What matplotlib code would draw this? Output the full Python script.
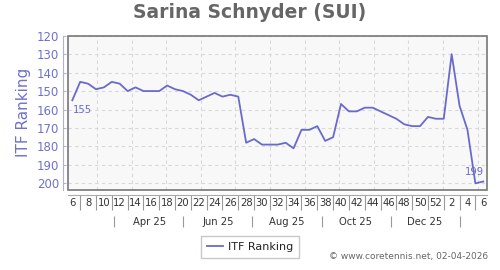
import matplotlib
matplotlib.use("Agg")
import matplotlib.pyplot as plt
import matplotlib.transforms as mtransforms
from matplotlib.patches import Rectangle
from matplotlib.ticker import FixedLocator, NullFormatter
import matplotlib.dates as mdates
import pandas as pd

# weekly ITF ranking, first point in ISO week 6 of 2025
start_date = "2025-02-07"
ranking = [155, 145, 146, 149, 148, 145, 146, 150, 148, 150, 150, 150, 147,
           149, 150, 152, 155, 153, 151, 153, 152, 153, 178, 176, 179, 179,
           179, 178, 181, 171, 171, 169, 177, 175, 157, 161, 161, 159, 159,
           161, 163, 165, 168, 169, 169, 164, 165, 165, 130, 158, 171, 200, 199]
y_ticks = [120, 130, 140, 150, 160, 170, 180, 190, 200]
title = "Sarina Schnyder (SUI)"
series_label = "ITF Ranking"
credit = "\u00a9 www.coretennis.net, 02-04-2026"

line_color = "#6a6acc"
text_color = "#7070cc"
PX = 72 / 100  # points per pixel at dpi 100

dates = pd.date_range(start_date, periods=len(ranking), freq="7D")
x = mdates.date2num(dates.to_pydatetime())
weeks = [d.isocalendar()[1] for d in dates]

fig = plt.figure(figsize=(5, 2.7), dpi=100)
ax = fig.add_axes([68 / 500, 1 - 190 / 270, 419 / 500, 154.3 / 270])
ax.set_facecolor("#f8f8f8")

ax.plot(x, ranking, color=line_color, lw=1.3, label=series_label, clip_on=False)

ax.set_xlim(x[0] - 3.8, x[-1] + 3.3)
ax.set_ylim(203.6, 120)

# frame around the plotting area
ax.add_patch(Rectangle((0, 0), 1, 1, transform=ax.transAxes, fill=False,
                       edgecolor="#777777", lw=1.2, clip_on=False, zorder=5))

# grid: horizontal at y ticks, vertical at month starts
ax.set_yticks(y_ticks)
ax.yaxis.grid(True, color="#d8d8d8", ls=(0, (3, 3)), lw=0.8)
month_starts = pd.date_range("2025-03-01", periods=12, freq="MS")
for m in mdates.date2num(month_starts.to_pydatetime()):
    ax.axvline(m, color="#d8d8d8", ls=(0, (3, 3)), lw=0.8, zorder=0)
ax.set_axisbelow(True)

for side in ["top", "right"]:
    ax.spines[side].set_visible(False)
ax.spines["left"].set_position(("outward", 5 * PX))
ax.spines["left"].set_color("#b0b0dd")
ax.spines["bottom"].set_position(("outward", 5 * PX))
ax.spines["bottom"].set_color("#aaaaaa")

ax.tick_params(axis="y", direction="in", length=3 * PX, color="#b0b0dd",
               labelcolor=text_color, labelsize=8.5, pad=4 * PX)

# week numbers: labels on even weeks, separators on odd weeks
ax.set_xticks(x[::2])
ax.set_xticklabels([str(w) for w in weeks[::2]])
ax.xaxis.set_minor_locator(FixedLocator(x[1::2]))
ax.tick_params(axis="x", which="major", length=0, pad=3 * PX, labelsize=7.2,
               labelcolor="#333333")
ax.tick_params(axis="x", which="minor", length=15 * PX, color="#999999", width=0.8)

# month row
ax2 = ax.twiny()
ax2.set_xlim(ax.get_xlim())
ax2.xaxis.set_ticks_position("bottom")
ax2.xaxis.set_label_position("bottom")
ax2.spines["bottom"].set_position(("outward", 26 * PX))
for side in ["top", "right", "left", "bottom"]:
    ax2.spines[side].set_visible(False)
sep_dates = pd.date_range("2025-03-01", periods=6, freq="2MS") + pd.Timedelta(days=15)
label_dates = pd.date_range("2025-04-01", periods=5, freq="2MS") + pd.Timedelta(days=15)
ax2.set_xticks(mdates.date2num(sep_dates.to_pydatetime()))
ax2.xaxis.set_major_formatter(NullFormatter())
ax2.set_xticks(mdates.date2num(label_dates.to_pydatetime()), minor=True)
ax2.set_xticklabels([d.strftime("%b %y") for d in label_dates], minor=True)
ax2.tick_params(axis="x", which="major", length=11 * PX, color="#999999", width=0.8)
ax2.tick_params(axis="x", which="minor", length=0, pad=1 * PX, labelsize=7.2,
                labelcolor="#333333")

# first and last values
off = mtransforms.offset_copy
ax.text(x[0], ranking[0], str(ranking[0]), color=line_color, fontsize=7.2,
        ha="left", va="top",
        transform=off(ax.transData, fig=fig, x=1, y=-5, units="dots"))
ax.text(x[-1], ranking[-1], str(ranking[-1]), color=line_color, fontsize=7.2,
        ha="right", va="bottom",
        transform=off(ax.transData, fig=fig, x=1, y=5, units="dots"))

ax.set_ylabel(series_label, color=text_color, fontsize=11, labelpad=4)

fig.text(0.5, 1 - 12 / 270, title, ha="center", va="center", fontsize=13.5,
         fontweight="bold", color="#666666")

fig.legend(loc="center", bbox_to_anchor=(0.5, 1 - 247 / 270), fontsize=8,
           frameon=True, fancybox=False, edgecolor="#bbbbbb", handlelength=1.5,
           handletextpad=0.4, borderpad=0.5, labelcolor="#222222")

fig.text(488 / 500, 1 - 256 / 270, credit, ha="right", va="center",
         fontsize=6.5, color="#666666")

fig.savefig("out.png", dpi=100)
